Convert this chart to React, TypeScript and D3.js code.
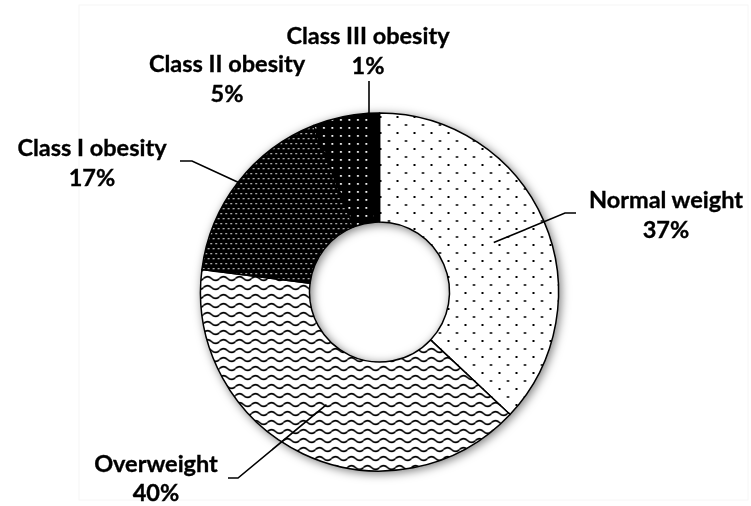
import React from "react";
import * as d3 from "d3";

const categories = ["Normal weight", "Overweight", "Class I obesity", "Class II obesity", "Class III obesity"];
const values = [37, 40, 17, 5, 1];
const valueLabels = ["37%", "40%", "17%", "5%", "1%"];
const fills = ["url(#pNormal)", "url(#pOver)", "url(#pClass1)", "url(#pClass2)", "#000"];

// label layout (center x, first-line baseline y, line gap)
const labelPos: [number, number, number][] = [
  [666, 208, 30],
  [156, 472, 28.5],
  [92, 156, 30],
  [227, 72, 30],
  [368, 44, 30],
];

const W = 751, H = 506;
const cx = 379.5, cy = 292, R = 179, r0 = 70;

export default function App() {
  const pie = d3.pie<number>().sort(null).value((d) => d).startAngle(0).endAngle(2 * Math.PI);
  const arcs = pie(values);
  const arcGen = d3.arc<d3.PieArcDatum<number>>().innerRadius(r0).outerRadius(R);
  const pt = (a: number, rr: number): [number, number] => [cx + rr * Math.sin(a), cy - rr * Math.cos(a)];
  const mid = (i: number) => (arcs[i].startAngle + arcs[i].endAngle) / 2;
  const line = d3.line();

  const cN = pt(mid(0), (R + r0) / 2);
  const cO = pt(mid(1), (R + r0) / 2);
  const c1 = pt(mid(2), R);
  const x3 = 369;
  const y3 = cy - Math.sqrt(R * R - (x3 - cx) * (x3 - cx));
  const leaders: [number, number][][] = [
    [[576, 213], [565, 213], cN],
    [[228, 478], [238, 478], cO],
    [[180, 161], [192, 161], c1],
    [[x3, 81], [x3, y3]],
  ];

  return (
    <div style={{ position: "absolute", left: 0, top: 0 }}>
      <svg width={W} height={H} style={{ display: "block", background: "#fff" }}>
        <defs>
          <pattern id="pNormal" patternUnits="userSpaceOnUse" width={17} height={16}>
            <rect width={17} height={16} fill="#fff" />
            <rect x={0} y={0} width={2} height={2} fill="#000" />
            <rect x={8.5} y={8} width={2} height={2} fill="#000" />
          </pattern>
          <pattern id="pOver" patternUnits="userSpaceOnUse" width={16} height={9}>
            <rect width={16} height={9} fill="#fff" />
            <path d="M0,4.5 Q4,0.5 8,4.5 Q12,8.5 16,4.5" fill="none" stroke="#000" strokeWidth={1.7} />
          </pattern>
          <pattern id="pClass1" patternUnits="userSpaceOnUse" width={5} height={10}>
            <rect width={5} height={10} fill="#000" />
            <rect x={1} y={1} width={1.3} height={1.3} fill="#fff" />
            <rect x={3.5} y={6} width={1.3} height={1.3} fill="#fff" />
          </pattern>
          <pattern id="pClass2" patternUnits="userSpaceOnUse" width={8.5} height={8}>
            <rect width={8.5} height={8} fill="#000" />
            <rect x={3} y={3} width={1.8} height={1.8} fill="#fff" />
          </pattern>
          <filter id="shadow" x="-20%" y="-20%" width="140%" height="140%">
            <feDropShadow dx={2} dy={2} stdDeviation={5} floodColor="#000" floodOpacity={0.5} />
          </filter>
        </defs>
        <rect x={79} y={5} width={669} height={495} fill="none" stroke="#f6f6f6" strokeWidth={1} />
        <g filter="url(#shadow)">
          {arcs.map((a, i) => (
            <path key={categories[i]} d={arcGen(a) || ""} transform={`translate(${cx},${cy})`} fill={fills[i]} stroke="#000" strokeWidth={1.5} strokeLinejoin="round" />
          ))}
        </g>
        {leaders.map((l, i) => (
          <path key={i} d={line(l) || ""} fill="none" stroke="#000" strokeWidth={1.6} />
        ))}
        <g fontFamily="Lato, 'Open Sans', sans-serif" fontWeight="bold" fontSize={23.5} fill="#000" stroke="#000" strokeWidth={0.35} textAnchor="middle">
          {categories.map((c, i) => (
            <text key={c} x={labelPos[i][0]} y={labelPos[i][1]}>
              <tspan x={labelPos[i][0]}>{c}</tspan>
              <tspan x={labelPos[i][0]} dy={labelPos[i][2]}>{valueLabels[i]}</tspan>
            </text>
          ))}
        </g>
      </svg>
    </div>
  );
}
